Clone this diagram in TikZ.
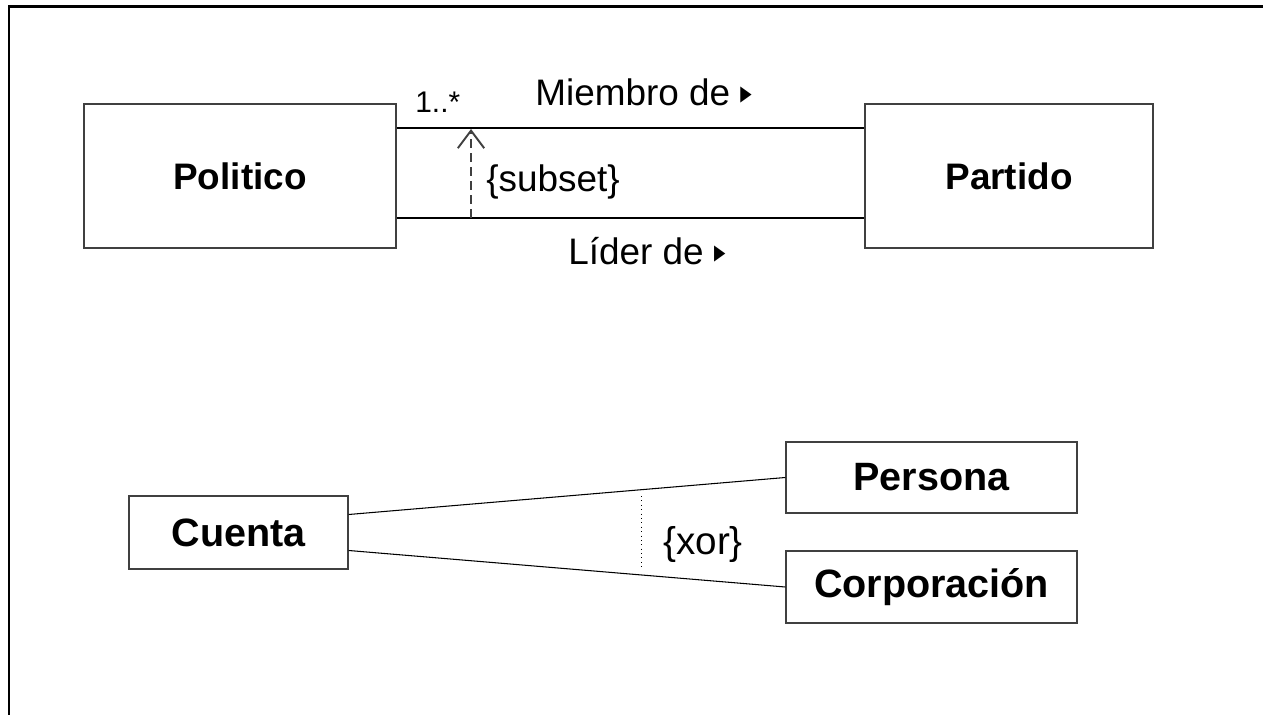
\documentclass[tikz,border=0pt]{standalone}
\usepackage{fontspec}
\setmainfont{Liberation Sans}
\newfontfamily\symfont{DejaVu Sans}
\usetikzlibrary{positioning,arrows.meta,calc}

\newcommand{\tri}{\raisebox{0.3ex}{\scalebox{0.7}[1]{\symfont\fontsize{12}{12}\selectfont ▶}}}

\begin{document}
\begin{tikzpicture}[x=0.02cm,y=-0.02cm,
    clase/.style={draw=black!75, line width=0.8pt, inner sep=0pt, font=\fontsize{21}{25}\selectfont\bfseries},
    claseb/.style={clase, font=\fontsize{22.5}{27}\selectfont\bfseries},
    etiq/.style={inner sep=0pt, font=\fontsize{21}{25}\selectfont}]
    \useasboundingbox (0,0) rectangle (1263,715);

    % marco
    \draw[line width=1.7pt] (9,715) -- (9,7) -- (1263,7);

    % clases de arriba
    \node[clase, minimum width=6.24cm, minimum height=2.88cm] (pol) at (240,176) {Politico};
    \node[clase, minimum width=5.76cm, minimum height=2.88cm] (par) at (1009,176) {Partido};

    \coordinate (m1) at ($(pol.east)+(0,-48)$);
    \coordinate (l1) at ($(pol.east)+(0,42)$);
    \draw[line width=1.2pt] (m1) -- (m1 -| par.west);
    \draw[line width=1.2pt] (l1) -- (l1 -| par.west);

    \coordinate (sa) at (471,218);
    \coordinate (sb) at (471,129);
    \draw[dash pattern=on 5pt off 3pt, line width=0.9pt, black!75, -{Straight Barb[length=10pt,width=15pt,line width=1.1pt]}] (sa) -- (sb);

    \node[etiq, anchor=base west, font=\fontsize{17}{20}\selectfont] (mult) at (415,113) {1..*};
    \node[etiq, anchor=base west] (miem) at (535,106) {Miembro de \tri};
    \node[etiq, anchor=base west] (sub) at (486,192) {\{subset\}};
    \node[etiq, anchor=base west] (lid) at (568,265) {Líder de \tri};

    % clases de abajo
    \node[claseb, minimum width=4.38cm, minimum height=1.46cm] (cue) at (238.5,532.5) {Cuenta};
    \node[claseb, minimum width=5.82cm, minimum height=1.42cm] (per) at (931.5,477.5) {Persona};
    \node[claseb, minimum width=5.82cm, minimum height=1.44cm] (cor) at (931.5,587) {Corporación};

    \draw[line width=0.6pt] ($(cue.east)+(0,-18)$) -- (per.west);
    \draw[line width=0.6pt] ($(cue.east)+(0,18)$) -- (cor.west);

    \coordinate (xa) at (641,496);
    \coordinate (xb) at (641,568);
    \draw[dotted, line width=0.5pt] (xa) -- (xb);
    \node[etiq, anchor=base west, font=\fontsize{22}{26}\selectfont] (xor) at (663,554) {\{xor\}};
\end{tikzpicture}
\end{document}
